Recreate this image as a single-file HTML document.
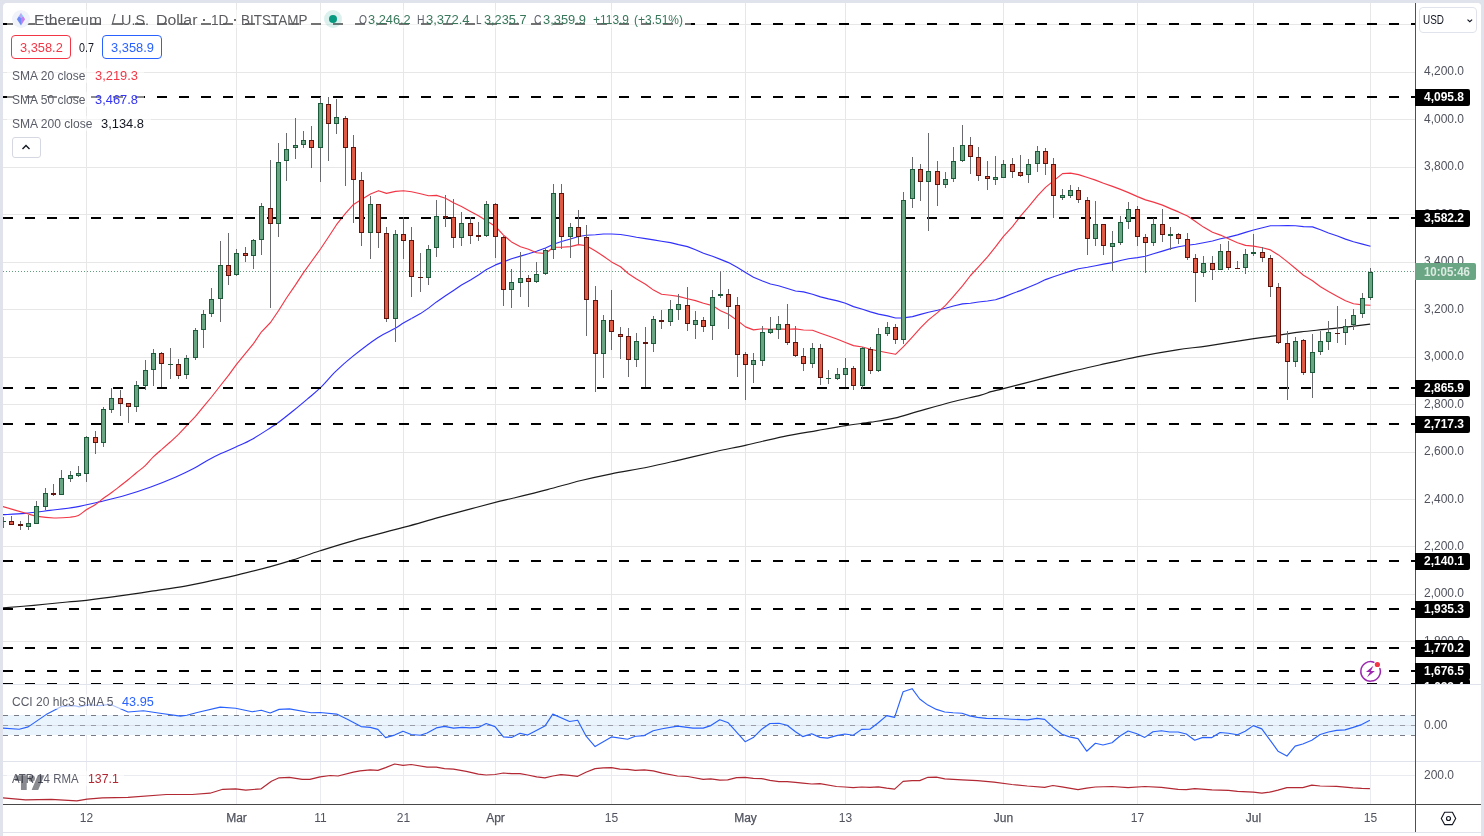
<!DOCTYPE html>
<html><head><meta charset="utf-8"><title>ETHUSD</title>
<style>
html,body{margin:0;padding:0;}
body{width:1484px;height:836px;background:#e0e3eb;overflow:hidden;position:relative;font-family:"Liberation Sans",sans-serif;}
#c{position:absolute;left:3px;top:3px;width:1478px;height:833px;background:#fff;border-radius:4px 4px 0 0;}
#w{position:absolute;left:0;top:0;width:1484px;height:836px;overflow:hidden;will-change:transform;}
svg.m{position:absolute;left:0;top:0;}
.t{position:absolute;white-space:nowrap;line-height:16px;}
.bl{position:absolute;left:1415px;height:17px;line-height:17px;font-size:12px;font-weight:bold;border-radius:0 2px 2px 0;box-sizing:border-box;padding-left:9px;white-space:nowrap;}
.mo{-webkit-text-stroke:0.25px #50535e;}
</style></head><body>
<div id="c"></div>
<div id="w">
<svg class="m" width="1484" height="836" viewBox="0 0 1484 836" shape-rendering="auto">
<defs><clipPath id="cp"><rect x="3" y="3" width="1478" height="841" rx="4"/></clipPath></defs>
<g clip-path="url(#cp)">
<rect x="86" y="3" width="1" height="681" fill="#e7e7e7"/>
<rect x="86" y="685" width="1" height="119" fill="#e9ebf0"/>
<rect x="236" y="3" width="1" height="681" fill="#e7e7e7"/>
<rect x="236" y="685" width="1" height="119" fill="#e9ebf0"/>
<rect x="320" y="3" width="1" height="681" fill="#e7e7e7"/>
<rect x="320" y="685" width="1" height="119" fill="#e9ebf0"/>
<rect x="403" y="3" width="1" height="681" fill="#e7e7e7"/>
<rect x="403" y="685" width="1" height="119" fill="#e9ebf0"/>
<rect x="495" y="3" width="1" height="681" fill="#e7e7e7"/>
<rect x="495" y="685" width="1" height="119" fill="#e9ebf0"/>
<rect x="611" y="3" width="1" height="681" fill="#e7e7e7"/>
<rect x="611" y="685" width="1" height="119" fill="#e9ebf0"/>
<rect x="745" y="3" width="1" height="681" fill="#e7e7e7"/>
<rect x="745" y="685" width="1" height="119" fill="#e9ebf0"/>
<rect x="845" y="3" width="1" height="681" fill="#e7e7e7"/>
<rect x="845" y="685" width="1" height="119" fill="#e9ebf0"/>
<rect x="1003" y="3" width="1" height="681" fill="#e7e7e7"/>
<rect x="1003" y="685" width="1" height="119" fill="#e9ebf0"/>
<rect x="1137" y="3" width="1" height="681" fill="#e7e7e7"/>
<rect x="1137" y="685" width="1" height="119" fill="#e9ebf0"/>
<rect x="1253" y="3" width="1" height="681" fill="#e7e7e7"/>
<rect x="1253" y="685" width="1" height="119" fill="#e9ebf0"/>
<rect x="1370" y="3" width="1" height="681" fill="#e7e7e7"/>
<rect x="1370" y="685" width="1" height="119" fill="#e9ebf0"/>
<rect x="3" y="24" width="1412" height="1" fill="#e7e7e7"/>
<rect x="3" y="72" width="1412" height="1" fill="#e7e7e7"/>
<rect x="3" y="119" width="1412" height="1" fill="#e7e7e7"/>
<rect x="3" y="167" width="1412" height="1" fill="#e7e7e7"/>
<rect x="3" y="214" width="1412" height="1" fill="#e7e7e7"/>
<rect x="3" y="262" width="1412" height="1" fill="#e7e7e7"/>
<rect x="3" y="309" width="1412" height="1" fill="#e7e7e7"/>
<rect x="3" y="357" width="1412" height="1" fill="#e7e7e7"/>
<rect x="3" y="404" width="1412" height="1" fill="#e7e7e7"/>
<rect x="3" y="452" width="1412" height="1" fill="#e7e7e7"/>
<rect x="3" y="499" width="1412" height="1" fill="#e7e7e7"/>
<rect x="3" y="546" width="1412" height="1" fill="#e7e7e7"/>
<rect x="3" y="594" width="1412" height="1" fill="#e7e7e7"/>
<rect x="3" y="641" width="1412" height="1" fill="#e7e7e7"/>
<rect x="3" y="775" width="1412" height="1" fill="#e9ebf0"/>
<rect x="3" y="715" width="1412" height="20" fill="#e9f4fd"/>
<rect x="3" y="725" width="1412" height="1" fill="#dde3ee"/>
<line x1="3" y1="715.5" x2="1415" y2="715.5" stroke="#787b86" stroke-width="1" stroke-dasharray="5 6"/>
<line x1="3" y1="725.5" x2="1415" y2="725.5" stroke="#9a9da7" stroke-width="1" stroke-dasharray="5 6"/>
<line x1="3" y1="735.5" x2="1415" y2="735.5" stroke="#787b86" stroke-width="1" stroke-dasharray="5 6"/>
<line x1="3" y1="271.5" x2="1415" y2="271.5" stroke="#5f9f7d" stroke-width="1" stroke-dasharray="1 2"/>
<path d="M2.70,608.00 C7.87,607.55 22.92,606.30 33.70,605.30 C44.48,604.30 58.63,602.83 67.40,602.00 C76.17,601.17 77.87,601.27 86.30,600.30 C94.73,599.33 107.12,597.72 118.00,596.20 C128.88,594.68 140.38,592.88 151.60,591.20 C162.82,589.52 174.07,588.12 185.30,586.10 C196.53,584.08 210.58,580.90 219.00,579.10 C227.42,577.30 227.38,577.33 235.80,575.30 C244.22,573.27 259.95,569.47 269.50,566.90 C279.05,564.33 284.67,562.58 293.10,559.90 C301.53,557.22 309.98,554.02 320.10,550.80 C330.22,547.58 339.77,544.53 353.80,540.60 C367.83,536.67 390.27,531.02 404.30,527.20 C418.33,523.38 426.77,520.80 438.00,517.70 C449.23,514.60 461.37,511.35 471.70,508.60 C482.03,505.85 493.00,502.97 500.00,501.20 C507.00,499.43 505.80,499.93 513.70,498.00 C521.60,496.07 536.17,492.52 547.40,489.60 C558.63,486.68 570.43,483.13 581.10,480.50 C591.77,477.87 600.17,476.05 611.40,473.80 C622.63,471.55 636.70,469.42 648.50,467.00 C660.30,464.58 670.97,461.88 682.20,459.30 C693.43,456.72 705.23,453.87 715.90,451.50 C726.57,449.13 734.98,447.57 746.20,445.10 C757.42,442.63 771.42,439.12 783.20,436.70 C794.98,434.28 806.50,432.45 816.90,430.60 C827.30,428.75 836.62,427.00 845.60,425.60 C854.58,424.20 862.67,423.43 870.80,422.20 C878.93,420.97 886.53,420.00 894.40,418.20 C902.27,416.40 908.45,414.10 918.00,411.40 C927.55,408.70 941.37,404.68 951.70,402.00 C962.03,399.32 973.45,397.02 980.00,395.30 C986.55,393.58 987.10,392.82 991.00,391.70 C994.90,390.58 995.65,390.57 1003.40,388.60 C1011.15,386.63 1026.65,382.65 1037.50,379.90 C1048.35,377.15 1058.17,374.58 1068.50,372.10 C1078.83,369.62 1087.88,367.58 1099.50,365.00 C1111.12,362.42 1125.28,359.13 1138.20,356.60 C1151.12,354.07 1165.37,351.60 1177.00,349.80 C1188.63,348.00 1195.18,347.65 1208.00,345.80 C1220.82,343.95 1242.17,340.45 1253.90,338.70 C1265.63,336.95 1270.55,336.45 1278.40,335.30 C1286.25,334.15 1292.07,332.90 1301.00,331.80 C1309.93,330.70 1320.48,329.98 1332.00,328.70 C1343.52,327.42 1363.75,324.87 1370.10,324.10" fill="none" stroke="#1c1c1c" stroke-width="1.2" stroke-linejoin="round"/>
<path d="M3.00,514.70 C6.67,514.48 17.17,514.12 25.00,513.40 C32.83,512.68 41.60,511.45 50.00,510.40 C58.40,509.35 66.98,508.57 75.40,507.10 C83.82,505.63 92.13,503.57 100.50,501.60 C108.87,499.63 117.22,497.73 125.60,495.30 C133.98,492.87 142.42,490.05 150.80,487.00 C159.18,483.95 168.77,480.07 175.90,477.00 C183.03,473.93 188.37,471.35 193.60,468.60 C198.83,465.85 202.75,463.00 207.30,460.50 C211.85,458.00 216.05,455.88 220.90,453.60 C225.75,451.32 231.10,449.25 236.40,446.80 C241.70,444.35 246.95,442.12 252.70,438.90 C258.45,435.68 266.73,430.15 270.90,427.50 C275.07,424.85 273.92,425.83 277.70,423.00 C281.48,420.17 288.67,414.48 293.60,410.50 C298.53,406.52 302.82,402.90 307.30,399.10 C311.78,395.30 315.77,392.32 320.50,387.70 C325.23,383.08 330.33,376.62 335.70,371.40 C341.07,366.18 345.70,362.02 352.70,356.40 C359.70,350.78 370.68,342.33 377.70,337.70 C384.72,333.07 390.52,331.05 394.80,328.60 C399.08,326.15 400.62,324.69 403.40,323.00 C406.18,321.31 410.15,319.21 411.50,318.46" fill="none" stroke="#3030ff" stroke-width="1.15"/>
<polyline points="411.5,318.5 420.5,313.6 428.5,308.1 436.5,301.9 445.5,295.8 453.5,290.4 461.5,285.0 470.5,279.9 478.5,275.0 486.5,269.6 495.5,264.9 503.5,261.9 511.5,258.7 520.5,256.1 528.5,253.8 536.5,251.2 545.5,248.0 553.5,244.2 561.5,241.5 570.5,239.0 578.5,236.5 586.5,235.2 595.5,234.8 603.5,234.0 611.5,234.0 620.5,234.5 628.5,235.7 636.5,237.2 645.5,238.6 653.5,239.9 661.5,241.2 670.5,242.6 678.5,244.6 687.5,246.6 695.5,249.7 703.5,253.3 712.5,256.3 720.5,259.4 728.5,262.6 737.5,267.6 745.5,272.4 753.5,277.3 762.5,281.0 770.5,284.0 778.5,285.8 787.5,288.5 795.5,291.0 803.5,291.9 812.5,294.2 820.5,296.9 828.5,298.9 837.5,300.9 845.5,303.2 853.5,306.6 862.5,309.2 870.5,311.9 878.5,314.1 887.5,315.9 895.5,318.0 903.5,317.9 912.5,316.6 920.5,314.4 928.5,312.2 937.5,310.3 945.5,308.3 953.5,306.0 962.5,303.9 970.5,303.2 978.5,302.0 987.5,301.0 995.5,299.8 1003.5,297.1 1012.5,293.5 1020.5,290.6 1028.5,287.2 1037.5,283.5 1045.5,279.6 1053.5,276.7 1062.5,273.7 1070.5,271.1 1078.5,268.7 1087.5,267.3 1095.5,265.7 1103.5,264.1 1112.5,262.6 1120.5,260.5 1128.5,258.7 1137.5,257.6 1145.5,256.3 1153.5,253.7 1162.5,251.1 1170.5,248.6 1178.5,246.7 1187.5,245.3 1195.5,244.3 1203.5,242.7 1212.5,241.0 1220.5,238.7 1228.5,237.1 1237.5,234.9 1245.5,232.4 1253.5,230.0 1262.5,227.8 1270.5,225.8 1278.5,225.7 1287.5,225.6 1295.5,225.7 1303.5,226.6 1312.5,226.9 1320.5,229.7 1328.5,233.0 1337.5,236.0 1345.5,239.1 1353.5,241.7 1362.5,244.1 1370.5,246.3" fill="none" stroke="#3030ff" stroke-width="1.15" stroke-linejoin="round"/>
<path d="M3.00,506.60 C6.67,507.67 19.22,511.37 25.00,513.00 C30.78,514.63 32.87,515.57 37.70,516.40 C42.53,517.23 48.55,517.87 54.00,518.00 C59.45,518.13 66.33,517.63 70.40,517.20 C74.47,516.77 75.68,516.67 78.40,515.40 C81.12,514.13 83.85,511.40 86.70,509.60 C89.55,507.80 92.70,506.48 95.50,504.60 C98.30,502.72 100.87,500.27 103.50,498.30 C106.13,496.33 108.48,494.88 111.30,492.80 C114.12,490.72 117.55,488.02 120.40,485.80 C123.25,483.58 125.73,481.68 128.40,479.50 C131.07,477.32 133.60,475.00 136.40,472.70 C139.20,470.40 142.38,468.33 145.20,465.70 C148.02,463.07 150.58,459.58 153.30,456.90 C156.02,454.22 160.13,450.85 161.50,449.64" fill="none" stroke="#f23645" stroke-width="1.15"/>
<polyline points="161.5,449.6 170.5,441.8 178.5,434.3 186.5,425.9 195.5,416.3 203.5,406.7 211.5,397.0 220.5,385.5 228.5,375.4 236.5,364.3 245.5,353.4 253.5,343.6 261.5,331.8 270.5,322.5 278.5,310.7 286.5,298.0 295.5,284.9 303.5,272.6 311.5,261.5 320.5,249.0 328.5,237.0 336.5,224.7 345.5,213.3 353.5,204.4 361.5,199.5 370.5,194.0 378.5,190.7 386.5,193.4 395.5,191.4 403.5,190.7 411.5,191.8 420.5,193.7 428.5,195.8 436.5,195.4 445.5,198.2 453.5,202.7 461.5,206.6 470.5,211.4 478.5,215.8 486.5,220.8 495.5,226.5 503.5,235.1 511.5,241.9 520.5,246.8 528.5,249.2 536.5,252.7 545.5,253.5 553.5,247.2 561.5,247.3 570.5,246.6 578.5,244.6 586.5,245.8 595.5,251.0 603.5,256.2 611.5,261.9 620.5,266.8 628.5,273.7 636.5,278.9 645.5,284.3 653.5,290.1 661.5,294.3 670.5,295.3 678.5,296.4 687.5,298.7 695.5,300.6 703.5,303.3 712.5,305.6 720.5,310.7 728.5,314.2 737.5,320.6 745.5,326.9 753.5,329.9 762.5,328.8 770.5,329.3 778.5,328.9 787.5,329.2 795.5,328.9 803.5,330.0 812.5,330.3 820.5,333.2 828.5,336.0 837.5,339.3 845.5,342.5 853.5,345.6 862.5,347.0 870.5,349.2 878.5,351.0 887.5,352.7 895.5,354.3 903.5,346.6 912.5,336.8 920.5,327.9 928.5,319.9 937.5,312.6 945.5,305.4 953.5,296.3 962.5,285.8 970.5,275.5 978.5,266.9 987.5,256.9 995.5,246.9 1003.5,236.4 1012.5,226.6 1020.5,216.1 1028.5,206.9 1037.5,195.9 1045.5,187.4 1053.5,180.9 1062.5,173.6 1070.5,173.1 1078.5,174.6 1087.5,177.5 1095.5,180.1 1103.5,183.2 1112.5,186.4 1120.5,189.4 1128.5,192.6 1137.5,196.6 1145.5,199.9 1153.5,202.1 1162.5,205.1 1170.5,208.6 1178.5,211.9 1187.5,216.0 1195.5,221.5 1203.5,227.1 1212.5,232.3 1220.5,235.1 1228.5,238.7 1237.5,242.7 1245.5,245.4 1253.5,246.1 1262.5,247.8 1270.5,249.9 1278.5,254.9 1287.5,261.9 1295.5,268.5 1303.5,275.3 1312.5,280.8 1320.5,286.7 1328.5,291.5 1337.5,296.5 1345.5,300.8 1353.5,303.7 1362.5,304.9 1370.5,305.3" fill="none" stroke="#f23645" stroke-width="1.15" stroke-linejoin="round"/>
<line x1="3" y1="24" x2="1415" y2="24" stroke="#000" stroke-width="2" stroke-dasharray="10 12"/>
<line x1="3" y1="97" x2="1415" y2="97" stroke="#000" stroke-width="2" stroke-dasharray="10 12"/>
<line x1="3" y1="218" x2="1415" y2="218" stroke="#000" stroke-width="2" stroke-dasharray="10 12"/>
<line x1="3" y1="388" x2="1415" y2="388" stroke="#000" stroke-width="2" stroke-dasharray="10 12"/>
<line x1="3" y1="424" x2="1415" y2="424" stroke="#000" stroke-width="2" stroke-dasharray="10 12"/>
<line x1="3" y1="561" x2="1415" y2="561" stroke="#000" stroke-width="2" stroke-dasharray="10 12"/>
<line x1="3" y1="609" x2="1415" y2="609" stroke="#000" stroke-width="2" stroke-dasharray="10 12"/>
<line x1="3" y1="648" x2="1415" y2="648" stroke="#000" stroke-width="2" stroke-dasharray="10 12"/>
<line x1="3" y1="671" x2="1415" y2="671" stroke="#000" stroke-width="2" stroke-dasharray="10 12"/>
<line x1="3" y1="683.5" x2="1415" y2="683.5" stroke="#000" stroke-width="1.2" stroke-dasharray="10 12"/>
<rect x="3" y="517" width="1" height="11" fill="#686a6e"/>
<rect x="1" y="521" width="5" height="1" fill="#1d5a3a"/>
<rect x="11" y="516" width="1" height="9" fill="#686a6e"/>
<rect x="9" y="521" width="5" height="4" fill="#5e130c"/>
<rect x="10" y="522" width="3" height="2" fill="#de5a45"/>
<rect x="20" y="521" width="1" height="9" fill="#686a6e"/>
<rect x="18" y="524" width="5" height="2" fill="#5e130c"/>
<rect x="28" y="515" width="1" height="15" fill="#686a6e"/>
<rect x="26" y="523" width="5" height="4" fill="#1d5a3a"/>
<rect x="27" y="524" width="3" height="2" fill="#6aa583"/>
<rect x="36" y="501" width="1" height="23" fill="#686a6e"/>
<rect x="34" y="506" width="5" height="18" fill="#1d5a3a"/>
<rect x="35" y="507" width="3" height="16" fill="#6aa583"/>
<rect x="45" y="488" width="1" height="22" fill="#686a6e"/>
<rect x="43" y="493" width="5" height="14" fill="#1d5a3a"/>
<rect x="44" y="494" width="3" height="12" fill="#6aa583"/>
<rect x="53" y="484" width="1" height="12" fill="#686a6e"/>
<rect x="51" y="493" width="5" height="2" fill="#5e130c"/>
<rect x="61" y="470" width="1" height="25" fill="#686a6e"/>
<rect x="59" y="478" width="5" height="17" fill="#1d5a3a"/>
<rect x="60" y="479" width="3" height="15" fill="#6aa583"/>
<rect x="70" y="471" width="1" height="11" fill="#686a6e"/>
<rect x="68" y="475" width="5" height="4" fill="#1d5a3a"/>
<rect x="69" y="476" width="3" height="2" fill="#6aa583"/>
<rect x="78" y="466" width="1" height="11" fill="#686a6e"/>
<rect x="76" y="473" width="5" height="3" fill="#1d5a3a"/>
<rect x="77" y="474" width="3" height="1" fill="#6aa583"/>
<rect x="86" y="436" width="1" height="46" fill="#686a6e"/>
<rect x="84" y="437" width="5" height="37" fill="#1d5a3a"/>
<rect x="85" y="438" width="3" height="35" fill="#6aa583"/>
<rect x="95" y="431" width="1" height="23" fill="#686a6e"/>
<rect x="93" y="437" width="5" height="6" fill="#5e130c"/>
<rect x="94" y="438" width="3" height="4" fill="#de5a45"/>
<rect x="103" y="407" width="1" height="40" fill="#686a6e"/>
<rect x="101" y="409" width="5" height="34" fill="#1d5a3a"/>
<rect x="102" y="410" width="3" height="32" fill="#6aa583"/>
<rect x="111" y="388" width="1" height="25" fill="#686a6e"/>
<rect x="109" y="398" width="5" height="12" fill="#1d5a3a"/>
<rect x="110" y="399" width="3" height="10" fill="#6aa583"/>
<rect x="120" y="390" width="1" height="26" fill="#686a6e"/>
<rect x="118" y="398" width="5" height="6" fill="#5e130c"/>
<rect x="119" y="399" width="3" height="4" fill="#de5a45"/>
<rect x="128" y="403" width="1" height="20" fill="#686a6e"/>
<rect x="126" y="403" width="5" height="4" fill="#5e130c"/>
<rect x="127" y="404" width="3" height="2" fill="#de5a45"/>
<rect x="136" y="381" width="1" height="31" fill="#686a6e"/>
<rect x="134" y="385" width="5" height="22" fill="#1d5a3a"/>
<rect x="135" y="386" width="3" height="20" fill="#6aa583"/>
<rect x="145" y="360" width="1" height="30" fill="#686a6e"/>
<rect x="143" y="370" width="5" height="16" fill="#1d5a3a"/>
<rect x="144" y="371" width="3" height="14" fill="#6aa583"/>
<rect x="153" y="349" width="1" height="37" fill="#686a6e"/>
<rect x="151" y="353" width="5" height="17" fill="#1d5a3a"/>
<rect x="152" y="354" width="3" height="15" fill="#6aa583"/>
<rect x="161" y="352" width="1" height="35" fill="#686a6e"/>
<rect x="159" y="353" width="5" height="11" fill="#5e130c"/>
<rect x="160" y="354" width="3" height="9" fill="#de5a45"/>
<rect x="170" y="348" width="1" height="31" fill="#686a6e"/>
<rect x="168" y="364" width="5" height="1" fill="#1d5a3a"/>
<rect x="178" y="359" width="1" height="20" fill="#686a6e"/>
<rect x="176" y="364" width="5" height="12" fill="#5e130c"/>
<rect x="177" y="365" width="3" height="10" fill="#de5a45"/>
<rect x="186" y="355" width="1" height="24" fill="#686a6e"/>
<rect x="184" y="358" width="5" height="17" fill="#1d5a3a"/>
<rect x="185" y="359" width="3" height="15" fill="#6aa583"/>
<rect x="195" y="328" width="1" height="32" fill="#686a6e"/>
<rect x="193" y="330" width="5" height="28" fill="#1d5a3a"/>
<rect x="194" y="331" width="3" height="26" fill="#6aa583"/>
<rect x="203" y="310" width="1" height="38" fill="#686a6e"/>
<rect x="201" y="314" width="5" height="16" fill="#1d5a3a"/>
<rect x="202" y="315" width="3" height="14" fill="#6aa583"/>
<rect x="211" y="288" width="1" height="29" fill="#686a6e"/>
<rect x="209" y="299" width="5" height="15" fill="#1d5a3a"/>
<rect x="210" y="300" width="3" height="13" fill="#6aa583"/>
<rect x="220" y="241" width="1" height="81" fill="#686a6e"/>
<rect x="218" y="265" width="5" height="34" fill="#1d5a3a"/>
<rect x="219" y="266" width="3" height="32" fill="#6aa583"/>
<rect x="228" y="233" width="1" height="52" fill="#686a6e"/>
<rect x="226" y="265" width="5" height="11" fill="#5e130c"/>
<rect x="227" y="266" width="3" height="9" fill="#de5a45"/>
<rect x="236" y="249" width="1" height="27" fill="#686a6e"/>
<rect x="234" y="253" width="5" height="22" fill="#1d5a3a"/>
<rect x="235" y="254" width="3" height="20" fill="#6aa583"/>
<rect x="245" y="247" width="1" height="15" fill="#686a6e"/>
<rect x="243" y="253" width="5" height="3" fill="#5e130c"/>
<rect x="244" y="254" width="3" height="1" fill="#de5a45"/>
<rect x="253" y="239" width="1" height="30" fill="#686a6e"/>
<rect x="251" y="240" width="5" height="16" fill="#1d5a3a"/>
<rect x="252" y="241" width="3" height="14" fill="#6aa583"/>
<rect x="261" y="203" width="1" height="52" fill="#686a6e"/>
<rect x="259" y="206" width="5" height="34" fill="#1d5a3a"/>
<rect x="260" y="207" width="3" height="32" fill="#6aa583"/>
<rect x="270" y="160" width="1" height="148" fill="#686a6e"/>
<rect x="268" y="208" width="5" height="16" fill="#5e130c"/>
<rect x="269" y="209" width="3" height="14" fill="#de5a45"/>
<rect x="278" y="143" width="1" height="94" fill="#686a6e"/>
<rect x="276" y="162" width="5" height="62" fill="#1d5a3a"/>
<rect x="277" y="163" width="3" height="60" fill="#6aa583"/>
<rect x="286" y="133" width="1" height="48" fill="#686a6e"/>
<rect x="284" y="149" width="5" height="12" fill="#1d5a3a"/>
<rect x="285" y="150" width="3" height="10" fill="#6aa583"/>
<rect x="295" y="118" width="1" height="41" fill="#686a6e"/>
<rect x="293" y="145" width="5" height="3" fill="#1d5a3a"/>
<rect x="294" y="146" width="3" height="1" fill="#6aa583"/>
<rect x="303" y="131" width="1" height="17" fill="#686a6e"/>
<rect x="301" y="140" width="5" height="5" fill="#1d5a3a"/>
<rect x="302" y="141" width="3" height="3" fill="#6aa583"/>
<rect x="311" y="126" width="1" height="42" fill="#686a6e"/>
<rect x="309" y="140" width="5" height="8" fill="#5e130c"/>
<rect x="310" y="141" width="3" height="6" fill="#de5a45"/>
<rect x="320" y="97" width="1" height="85" fill="#686a6e"/>
<rect x="318" y="103" width="5" height="45" fill="#1d5a3a"/>
<rect x="319" y="104" width="3" height="43" fill="#6aa583"/>
<rect x="328" y="97" width="1" height="64" fill="#686a6e"/>
<rect x="326" y="104" width="5" height="20" fill="#5e130c"/>
<rect x="327" y="105" width="3" height="18" fill="#de5a45"/>
<rect x="336" y="99" width="1" height="35" fill="#686a6e"/>
<rect x="334" y="117" width="5" height="7" fill="#1d5a3a"/>
<rect x="335" y="118" width="3" height="5" fill="#6aa583"/>
<rect x="345" y="116" width="1" height="70" fill="#686a6e"/>
<rect x="343" y="118" width="5" height="30" fill="#5e130c"/>
<rect x="344" y="119" width="3" height="28" fill="#de5a45"/>
<rect x="353" y="135" width="1" height="88" fill="#686a6e"/>
<rect x="351" y="147" width="5" height="33" fill="#5e130c"/>
<rect x="352" y="148" width="3" height="31" fill="#de5a45"/>
<rect x="361" y="172" width="1" height="74" fill="#686a6e"/>
<rect x="359" y="180" width="5" height="53" fill="#5e130c"/>
<rect x="360" y="181" width="3" height="51" fill="#de5a45"/>
<rect x="370" y="196" width="1" height="63" fill="#686a6e"/>
<rect x="368" y="204" width="5" height="29" fill="#1d5a3a"/>
<rect x="369" y="205" width="3" height="27" fill="#6aa583"/>
<rect x="378" y="204" width="1" height="44" fill="#686a6e"/>
<rect x="376" y="204" width="5" height="29" fill="#5e130c"/>
<rect x="377" y="205" width="3" height="27" fill="#de5a45"/>
<rect x="386" y="227" width="1" height="95" fill="#686a6e"/>
<rect x="384" y="233" width="5" height="86" fill="#5e130c"/>
<rect x="385" y="234" width="3" height="84" fill="#de5a45"/>
<rect x="395" y="230" width="1" height="112" fill="#686a6e"/>
<rect x="393" y="234" width="5" height="85" fill="#1d5a3a"/>
<rect x="394" y="235" width="3" height="83" fill="#6aa583"/>
<rect x="403" y="217" width="1" height="42" fill="#686a6e"/>
<rect x="401" y="234" width="5" height="7" fill="#5e130c"/>
<rect x="402" y="235" width="3" height="5" fill="#de5a45"/>
<rect x="411" y="227" width="1" height="70" fill="#686a6e"/>
<rect x="409" y="240" width="5" height="37" fill="#5e130c"/>
<rect x="410" y="241" width="3" height="35" fill="#de5a45"/>
<rect x="420" y="253" width="1" height="39" fill="#686a6e"/>
<rect x="418" y="277" width="5" height="1" fill="#5e130c"/>
<rect x="428" y="245" width="1" height="40" fill="#686a6e"/>
<rect x="426" y="249" width="5" height="29" fill="#1d5a3a"/>
<rect x="427" y="250" width="3" height="27" fill="#6aa583"/>
<rect x="436" y="200" width="1" height="57" fill="#686a6e"/>
<rect x="434" y="216" width="5" height="32" fill="#1d5a3a"/>
<rect x="435" y="217" width="3" height="30" fill="#6aa583"/>
<rect x="445" y="195" width="1" height="32" fill="#686a6e"/>
<rect x="443" y="216" width="5" height="2" fill="#5e130c"/>
<rect x="453" y="199" width="1" height="49" fill="#686a6e"/>
<rect x="451" y="217" width="5" height="21" fill="#5e130c"/>
<rect x="452" y="218" width="3" height="19" fill="#de5a45"/>
<rect x="461" y="212" width="1" height="34" fill="#686a6e"/>
<rect x="459" y="223" width="5" height="15" fill="#1d5a3a"/>
<rect x="460" y="224" width="3" height="13" fill="#6aa583"/>
<rect x="470" y="217" width="1" height="27" fill="#686a6e"/>
<rect x="468" y="223" width="5" height="13" fill="#5e130c"/>
<rect x="469" y="224" width="3" height="11" fill="#de5a45"/>
<rect x="478" y="222" width="1" height="19" fill="#686a6e"/>
<rect x="476" y="235" width="5" height="2" fill="#5e130c"/>
<rect x="486" y="201" width="1" height="36" fill="#686a6e"/>
<rect x="484" y="204" width="5" height="32" fill="#1d5a3a"/>
<rect x="485" y="205" width="3" height="30" fill="#6aa583"/>
<rect x="495" y="203" width="1" height="55" fill="#686a6e"/>
<rect x="493" y="204" width="5" height="33" fill="#5e130c"/>
<rect x="494" y="205" width="3" height="31" fill="#de5a45"/>
<rect x="503" y="236" width="1" height="70" fill="#686a6e"/>
<rect x="501" y="237" width="5" height="53" fill="#5e130c"/>
<rect x="502" y="238" width="3" height="51" fill="#de5a45"/>
<rect x="511" y="269" width="1" height="39" fill="#686a6e"/>
<rect x="509" y="282" width="5" height="8" fill="#1d5a3a"/>
<rect x="510" y="283" width="3" height="6" fill="#6aa583"/>
<rect x="520" y="252" width="1" height="45" fill="#686a6e"/>
<rect x="518" y="278" width="5" height="5" fill="#1d5a3a"/>
<rect x="519" y="279" width="3" height="3" fill="#6aa583"/>
<rect x="528" y="275" width="1" height="32" fill="#686a6e"/>
<rect x="526" y="278" width="5" height="4" fill="#5e130c"/>
<rect x="527" y="279" width="3" height="2" fill="#de5a45"/>
<rect x="536" y="262" width="1" height="21" fill="#686a6e"/>
<rect x="534" y="274" width="5" height="8" fill="#1d5a3a"/>
<rect x="535" y="275" width="3" height="6" fill="#6aa583"/>
<rect x="545" y="248" width="1" height="27" fill="#686a6e"/>
<rect x="543" y="250" width="5" height="24" fill="#1d5a3a"/>
<rect x="544" y="251" width="3" height="22" fill="#6aa583"/>
<rect x="553" y="184" width="1" height="75" fill="#686a6e"/>
<rect x="551" y="193" width="5" height="57" fill="#1d5a3a"/>
<rect x="552" y="194" width="3" height="55" fill="#6aa583"/>
<rect x="561" y="184" width="1" height="65" fill="#686a6e"/>
<rect x="559" y="193" width="5" height="44" fill="#5e130c"/>
<rect x="560" y="194" width="3" height="42" fill="#de5a45"/>
<rect x="570" y="223" width="1" height="35" fill="#686a6e"/>
<rect x="568" y="227" width="5" height="10" fill="#1d5a3a"/>
<rect x="569" y="228" width="3" height="8" fill="#6aa583"/>
<rect x="578" y="210" width="1" height="34" fill="#686a6e"/>
<rect x="576" y="227" width="5" height="10" fill="#5e130c"/>
<rect x="577" y="228" width="3" height="8" fill="#de5a45"/>
<rect x="586" y="225" width="1" height="111" fill="#686a6e"/>
<rect x="584" y="237" width="5" height="63" fill="#5e130c"/>
<rect x="585" y="238" width="3" height="61" fill="#de5a45"/>
<rect x="595" y="286" width="1" height="106" fill="#686a6e"/>
<rect x="593" y="300" width="5" height="54" fill="#5e130c"/>
<rect x="594" y="301" width="3" height="52" fill="#de5a45"/>
<rect x="603" y="315" width="1" height="63" fill="#686a6e"/>
<rect x="601" y="320" width="5" height="34" fill="#1d5a3a"/>
<rect x="602" y="321" width="3" height="32" fill="#6aa583"/>
<rect x="611" y="290" width="1" height="60" fill="#686a6e"/>
<rect x="609" y="320" width="5" height="12" fill="#5e130c"/>
<rect x="610" y="321" width="3" height="10" fill="#de5a45"/>
<rect x="620" y="327" width="1" height="32" fill="#686a6e"/>
<rect x="618" y="334" width="5" height="3" fill="#5e130c"/>
<rect x="619" y="335" width="3" height="1" fill="#de5a45"/>
<rect x="628" y="328" width="1" height="49" fill="#686a6e"/>
<rect x="626" y="336" width="5" height="24" fill="#5e130c"/>
<rect x="627" y="337" width="3" height="22" fill="#de5a45"/>
<rect x="636" y="333" width="1" height="34" fill="#686a6e"/>
<rect x="634" y="341" width="5" height="19" fill="#1d5a3a"/>
<rect x="635" y="342" width="3" height="17" fill="#6aa583"/>
<rect x="645" y="327" width="1" height="60" fill="#686a6e"/>
<rect x="643" y="342" width="5" height="2" fill="#5e130c"/>
<rect x="653" y="316" width="1" height="36" fill="#686a6e"/>
<rect x="651" y="319" width="5" height="25" fill="#1d5a3a"/>
<rect x="652" y="320" width="3" height="23" fill="#6aa583"/>
<rect x="661" y="310" width="1" height="19" fill="#686a6e"/>
<rect x="659" y="320" width="5" height="2" fill="#5e130c"/>
<rect x="670" y="300" width="1" height="26" fill="#686a6e"/>
<rect x="668" y="309" width="5" height="13" fill="#1d5a3a"/>
<rect x="669" y="310" width="3" height="11" fill="#6aa583"/>
<rect x="678" y="294" width="1" height="26" fill="#686a6e"/>
<rect x="676" y="304" width="5" height="6" fill="#1d5a3a"/>
<rect x="677" y="305" width="3" height="4" fill="#6aa583"/>
<rect x="687" y="287" width="1" height="44" fill="#686a6e"/>
<rect x="685" y="305" width="5" height="19" fill="#5e130c"/>
<rect x="686" y="306" width="3" height="17" fill="#de5a45"/>
<rect x="695" y="311" width="1" height="28" fill="#686a6e"/>
<rect x="693" y="320" width="5" height="5" fill="#1d5a3a"/>
<rect x="694" y="321" width="3" height="3" fill="#6aa583"/>
<rect x="703" y="317" width="1" height="15" fill="#686a6e"/>
<rect x="701" y="320" width="5" height="7" fill="#5e130c"/>
<rect x="702" y="321" width="3" height="5" fill="#de5a45"/>
<rect x="712" y="290" width="1" height="50" fill="#686a6e"/>
<rect x="710" y="297" width="5" height="29" fill="#1d5a3a"/>
<rect x="711" y="298" width="3" height="27" fill="#6aa583"/>
<rect x="720" y="271" width="1" height="27" fill="#686a6e"/>
<rect x="718" y="294" width="5" height="2" fill="#1d5a3a"/>
<rect x="728" y="289" width="1" height="40" fill="#686a6e"/>
<rect x="726" y="294" width="5" height="13" fill="#5e130c"/>
<rect x="727" y="295" width="3" height="11" fill="#de5a45"/>
<rect x="737" y="297" width="1" height="80" fill="#686a6e"/>
<rect x="735" y="305" width="5" height="50" fill="#5e130c"/>
<rect x="736" y="306" width="3" height="48" fill="#de5a45"/>
<rect x="745" y="352" width="1" height="48" fill="#686a6e"/>
<rect x="743" y="354" width="5" height="11" fill="#5e130c"/>
<rect x="744" y="355" width="3" height="9" fill="#de5a45"/>
<rect x="753" y="353" width="1" height="30" fill="#686a6e"/>
<rect x="751" y="360" width="5" height="5" fill="#1d5a3a"/>
<rect x="752" y="361" width="3" height="3" fill="#6aa583"/>
<rect x="762" y="326" width="1" height="40" fill="#686a6e"/>
<rect x="760" y="332" width="5" height="29" fill="#1d5a3a"/>
<rect x="761" y="333" width="3" height="27" fill="#6aa583"/>
<rect x="770" y="317" width="1" height="17" fill="#686a6e"/>
<rect x="768" y="329" width="5" height="4" fill="#1d5a3a"/>
<rect x="769" y="330" width="3" height="2" fill="#6aa583"/>
<rect x="778" y="316" width="1" height="23" fill="#686a6e"/>
<rect x="776" y="324" width="5" height="6" fill="#1d5a3a"/>
<rect x="777" y="325" width="3" height="4" fill="#6aa583"/>
<rect x="787" y="304" width="1" height="41" fill="#686a6e"/>
<rect x="785" y="324" width="5" height="19" fill="#5e130c"/>
<rect x="786" y="325" width="3" height="17" fill="#de5a45"/>
<rect x="795" y="326" width="1" height="31" fill="#686a6e"/>
<rect x="793" y="342" width="5" height="14" fill="#5e130c"/>
<rect x="794" y="343" width="3" height="12" fill="#de5a45"/>
<rect x="803" y="348" width="1" height="23" fill="#686a6e"/>
<rect x="801" y="356" width="5" height="8" fill="#5e130c"/>
<rect x="802" y="357" width="3" height="6" fill="#de5a45"/>
<rect x="812" y="343" width="1" height="25" fill="#686a6e"/>
<rect x="810" y="348" width="5" height="16" fill="#1d5a3a"/>
<rect x="811" y="349" width="3" height="14" fill="#6aa583"/>
<rect x="820" y="344" width="1" height="41" fill="#686a6e"/>
<rect x="818" y="348" width="5" height="30" fill="#5e130c"/>
<rect x="819" y="349" width="3" height="28" fill="#de5a45"/>
<rect x="828" y="370" width="1" height="14" fill="#686a6e"/>
<rect x="826" y="378" width="5" height="1" fill="#1d5a3a"/>
<rect x="837" y="368" width="1" height="12" fill="#686a6e"/>
<rect x="835" y="374" width="5" height="5" fill="#1d5a3a"/>
<rect x="836" y="375" width="3" height="3" fill="#6aa583"/>
<rect x="845" y="358" width="1" height="29" fill="#686a6e"/>
<rect x="843" y="368" width="5" height="7" fill="#1d5a3a"/>
<rect x="844" y="369" width="3" height="5" fill="#6aa583"/>
<rect x="853" y="366" width="1" height="24" fill="#686a6e"/>
<rect x="851" y="368" width="5" height="18" fill="#5e130c"/>
<rect x="852" y="369" width="3" height="16" fill="#de5a45"/>
<rect x="862" y="347" width="1" height="42" fill="#686a6e"/>
<rect x="860" y="348" width="5" height="38" fill="#1d5a3a"/>
<rect x="861" y="349" width="3" height="36" fill="#6aa583"/>
<rect x="870" y="347" width="1" height="27" fill="#686a6e"/>
<rect x="868" y="349" width="5" height="22" fill="#5e130c"/>
<rect x="869" y="350" width="3" height="20" fill="#de5a45"/>
<rect x="878" y="328" width="1" height="44" fill="#686a6e"/>
<rect x="876" y="334" width="5" height="37" fill="#1d5a3a"/>
<rect x="877" y="335" width="3" height="35" fill="#6aa583"/>
<rect x="887" y="322" width="1" height="14" fill="#686a6e"/>
<rect x="885" y="327" width="5" height="7" fill="#1d5a3a"/>
<rect x="886" y="328" width="3" height="5" fill="#6aa583"/>
<rect x="895" y="324" width="1" height="20" fill="#686a6e"/>
<rect x="893" y="327" width="5" height="13" fill="#5e130c"/>
<rect x="894" y="328" width="3" height="11" fill="#de5a45"/>
<rect x="903" y="192" width="1" height="152" fill="#686a6e"/>
<rect x="901" y="200" width="5" height="140" fill="#1d5a3a"/>
<rect x="902" y="201" width="3" height="138" fill="#6aa583"/>
<rect x="912" y="157" width="1" height="51" fill="#686a6e"/>
<rect x="910" y="169" width="5" height="30" fill="#1d5a3a"/>
<rect x="911" y="170" width="3" height="28" fill="#6aa583"/>
<rect x="920" y="164" width="1" height="37" fill="#686a6e"/>
<rect x="918" y="169" width="5" height="13" fill="#5e130c"/>
<rect x="919" y="170" width="3" height="11" fill="#de5a45"/>
<rect x="928" y="133" width="1" height="98" fill="#686a6e"/>
<rect x="926" y="171" width="5" height="11" fill="#1d5a3a"/>
<rect x="927" y="172" width="3" height="9" fill="#6aa583"/>
<rect x="937" y="161" width="1" height="45" fill="#686a6e"/>
<rect x="935" y="171" width="5" height="14" fill="#5e130c"/>
<rect x="936" y="172" width="3" height="12" fill="#de5a45"/>
<rect x="945" y="172" width="1" height="16" fill="#686a6e"/>
<rect x="943" y="179" width="5" height="6" fill="#1d5a3a"/>
<rect x="944" y="180" width="3" height="4" fill="#6aa583"/>
<rect x="953" y="147" width="1" height="35" fill="#686a6e"/>
<rect x="951" y="161" width="5" height="18" fill="#1d5a3a"/>
<rect x="952" y="162" width="3" height="16" fill="#6aa583"/>
<rect x="962" y="125" width="1" height="37" fill="#686a6e"/>
<rect x="960" y="145" width="5" height="16" fill="#1d5a3a"/>
<rect x="961" y="146" width="3" height="14" fill="#6aa583"/>
<rect x="970" y="137" width="1" height="37" fill="#686a6e"/>
<rect x="968" y="145" width="5" height="12" fill="#5e130c"/>
<rect x="969" y="146" width="3" height="10" fill="#de5a45"/>
<rect x="978" y="147" width="1" height="34" fill="#686a6e"/>
<rect x="976" y="157" width="5" height="19" fill="#5e130c"/>
<rect x="977" y="158" width="3" height="17" fill="#de5a45"/>
<rect x="987" y="161" width="1" height="29" fill="#686a6e"/>
<rect x="985" y="176" width="5" height="3" fill="#5e130c"/>
<rect x="986" y="177" width="3" height="1" fill="#de5a45"/>
<rect x="995" y="156" width="1" height="29" fill="#686a6e"/>
<rect x="993" y="177" width="5" height="3" fill="#1d5a3a"/>
<rect x="994" y="178" width="3" height="1" fill="#6aa583"/>
<rect x="1003" y="160" width="1" height="18" fill="#686a6e"/>
<rect x="1001" y="164" width="5" height="14" fill="#1d5a3a"/>
<rect x="1002" y="165" width="3" height="12" fill="#6aa583"/>
<rect x="1012" y="158" width="1" height="20" fill="#686a6e"/>
<rect x="1010" y="164" width="5" height="8" fill="#5e130c"/>
<rect x="1011" y="165" width="3" height="6" fill="#de5a45"/>
<rect x="1020" y="155" width="1" height="22" fill="#686a6e"/>
<rect x="1018" y="172" width="5" height="4" fill="#5e130c"/>
<rect x="1019" y="173" width="3" height="2" fill="#de5a45"/>
<rect x="1028" y="159" width="1" height="24" fill="#686a6e"/>
<rect x="1026" y="164" width="5" height="11" fill="#1d5a3a"/>
<rect x="1027" y="165" width="3" height="9" fill="#6aa583"/>
<rect x="1037" y="146" width="1" height="26" fill="#686a6e"/>
<rect x="1035" y="151" width="5" height="13" fill="#1d5a3a"/>
<rect x="1036" y="152" width="3" height="11" fill="#6aa583"/>
<rect x="1045" y="148" width="1" height="27" fill="#686a6e"/>
<rect x="1043" y="151" width="5" height="13" fill="#5e130c"/>
<rect x="1044" y="152" width="3" height="11" fill="#de5a45"/>
<rect x="1053" y="158" width="1" height="60" fill="#686a6e"/>
<rect x="1051" y="164" width="5" height="32" fill="#5e130c"/>
<rect x="1052" y="165" width="3" height="30" fill="#de5a45"/>
<rect x="1062" y="189" width="1" height="11" fill="#686a6e"/>
<rect x="1060" y="195" width="5" height="3" fill="#1d5a3a"/>
<rect x="1061" y="196" width="3" height="1" fill="#6aa583"/>
<rect x="1070" y="185" width="1" height="13" fill="#686a6e"/>
<rect x="1068" y="190" width="5" height="6" fill="#1d5a3a"/>
<rect x="1069" y="191" width="3" height="4" fill="#6aa583"/>
<rect x="1078" y="187" width="1" height="16" fill="#686a6e"/>
<rect x="1076" y="190" width="5" height="10" fill="#5e130c"/>
<rect x="1077" y="191" width="3" height="8" fill="#de5a45"/>
<rect x="1087" y="197" width="1" height="58" fill="#686a6e"/>
<rect x="1085" y="200" width="5" height="39" fill="#5e130c"/>
<rect x="1086" y="201" width="3" height="37" fill="#de5a45"/>
<rect x="1095" y="201" width="1" height="45" fill="#686a6e"/>
<rect x="1093" y="224" width="5" height="15" fill="#1d5a3a"/>
<rect x="1094" y="225" width="3" height="13" fill="#6aa583"/>
<rect x="1103" y="224" width="1" height="31" fill="#686a6e"/>
<rect x="1101" y="224" width="5" height="22" fill="#5e130c"/>
<rect x="1102" y="225" width="3" height="20" fill="#de5a45"/>
<rect x="1112" y="231" width="1" height="40" fill="#686a6e"/>
<rect x="1110" y="243" width="5" height="4" fill="#1d5a3a"/>
<rect x="1111" y="244" width="3" height="2" fill="#6aa583"/>
<rect x="1120" y="216" width="1" height="29" fill="#686a6e"/>
<rect x="1118" y="222" width="5" height="21" fill="#1d5a3a"/>
<rect x="1119" y="223" width="3" height="19" fill="#6aa583"/>
<rect x="1128" y="202" width="1" height="27" fill="#686a6e"/>
<rect x="1126" y="209" width="5" height="13" fill="#1d5a3a"/>
<rect x="1127" y="210" width="3" height="11" fill="#6aa583"/>
<rect x="1137" y="206" width="1" height="40" fill="#686a6e"/>
<rect x="1135" y="209" width="5" height="28" fill="#5e130c"/>
<rect x="1136" y="210" width="3" height="26" fill="#de5a45"/>
<rect x="1145" y="234" width="1" height="39" fill="#686a6e"/>
<rect x="1143" y="237" width="5" height="6" fill="#5e130c"/>
<rect x="1144" y="238" width="3" height="4" fill="#de5a45"/>
<rect x="1153" y="218" width="1" height="28" fill="#686a6e"/>
<rect x="1151" y="224" width="5" height="19" fill="#1d5a3a"/>
<rect x="1152" y="225" width="3" height="17" fill="#6aa583"/>
<rect x="1162" y="209" width="1" height="33" fill="#686a6e"/>
<rect x="1160" y="224" width="5" height="11" fill="#5e130c"/>
<rect x="1161" y="225" width="3" height="9" fill="#de5a45"/>
<rect x="1170" y="227" width="1" height="23" fill="#686a6e"/>
<rect x="1168" y="234" width="5" height="2" fill="#1d5a3a"/>
<rect x="1178" y="233" width="1" height="11" fill="#686a6e"/>
<rect x="1176" y="234" width="5" height="5" fill="#5e130c"/>
<rect x="1177" y="235" width="3" height="3" fill="#de5a45"/>
<rect x="1187" y="233" width="1" height="27" fill="#686a6e"/>
<rect x="1185" y="239" width="5" height="19" fill="#5e130c"/>
<rect x="1186" y="240" width="3" height="17" fill="#de5a45"/>
<rect x="1195" y="254" width="1" height="48" fill="#686a6e"/>
<rect x="1193" y="258" width="5" height="15" fill="#5e130c"/>
<rect x="1194" y="259" width="3" height="13" fill="#de5a45"/>
<rect x="1203" y="256" width="1" height="21" fill="#686a6e"/>
<rect x="1201" y="263" width="5" height="10" fill="#1d5a3a"/>
<rect x="1202" y="264" width="3" height="8" fill="#6aa583"/>
<rect x="1212" y="256" width="1" height="24" fill="#686a6e"/>
<rect x="1210" y="263" width="5" height="7" fill="#5e130c"/>
<rect x="1211" y="264" width="3" height="5" fill="#de5a45"/>
<rect x="1220" y="244" width="1" height="26" fill="#686a6e"/>
<rect x="1218" y="251" width="5" height="19" fill="#1d5a3a"/>
<rect x="1219" y="252" width="3" height="17" fill="#6aa583"/>
<rect x="1228" y="241" width="1" height="29" fill="#686a6e"/>
<rect x="1226" y="251" width="5" height="17" fill="#5e130c"/>
<rect x="1227" y="252" width="3" height="15" fill="#de5a45"/>
<rect x="1237" y="261" width="1" height="8" fill="#686a6e"/>
<rect x="1235" y="268" width="5" height="1" fill="#5e130c"/>
<rect x="1245" y="249" width="1" height="25" fill="#686a6e"/>
<rect x="1243" y="254" width="5" height="14" fill="#1d5a3a"/>
<rect x="1244" y="255" width="3" height="12" fill="#6aa583"/>
<rect x="1253" y="234" width="1" height="22" fill="#686a6e"/>
<rect x="1251" y="252" width="5" height="2" fill="#1d5a3a"/>
<rect x="1262" y="247" width="1" height="15" fill="#686a6e"/>
<rect x="1260" y="252" width="5" height="6" fill="#5e130c"/>
<rect x="1261" y="253" width="3" height="4" fill="#de5a45"/>
<rect x="1270" y="255" width="1" height="42" fill="#686a6e"/>
<rect x="1268" y="258" width="5" height="29" fill="#5e130c"/>
<rect x="1269" y="259" width="3" height="27" fill="#de5a45"/>
<rect x="1278" y="283" width="1" height="61" fill="#686a6e"/>
<rect x="1276" y="287" width="5" height="56" fill="#5e130c"/>
<rect x="1277" y="288" width="3" height="54" fill="#de5a45"/>
<rect x="1287" y="331" width="1" height="69" fill="#686a6e"/>
<rect x="1285" y="343" width="5" height="19" fill="#5e130c"/>
<rect x="1286" y="344" width="3" height="17" fill="#de5a45"/>
<rect x="1295" y="337" width="1" height="30" fill="#686a6e"/>
<rect x="1293" y="341" width="5" height="21" fill="#1d5a3a"/>
<rect x="1294" y="342" width="3" height="19" fill="#6aa583"/>
<rect x="1303" y="339" width="1" height="36" fill="#686a6e"/>
<rect x="1301" y="340" width="5" height="33" fill="#5e130c"/>
<rect x="1302" y="341" width="3" height="31" fill="#de5a45"/>
<rect x="1312" y="334" width="1" height="64" fill="#686a6e"/>
<rect x="1310" y="352" width="5" height="21" fill="#1d5a3a"/>
<rect x="1311" y="353" width="3" height="19" fill="#6aa583"/>
<rect x="1320" y="331" width="1" height="24" fill="#686a6e"/>
<rect x="1318" y="341" width="5" height="11" fill="#1d5a3a"/>
<rect x="1319" y="342" width="3" height="9" fill="#6aa583"/>
<rect x="1328" y="321" width="1" height="29" fill="#686a6e"/>
<rect x="1326" y="332" width="5" height="10" fill="#1d5a3a"/>
<rect x="1327" y="333" width="3" height="8" fill="#6aa583"/>
<rect x="1337" y="306" width="1" height="37" fill="#686a6e"/>
<rect x="1335" y="333" width="5" height="1" fill="#5e130c"/>
<rect x="1345" y="319" width="1" height="26" fill="#686a6e"/>
<rect x="1343" y="326" width="5" height="7" fill="#1d5a3a"/>
<rect x="1344" y="327" width="3" height="5" fill="#6aa583"/>
<rect x="1353" y="309" width="1" height="21" fill="#686a6e"/>
<rect x="1351" y="315" width="5" height="10" fill="#1d5a3a"/>
<rect x="1352" y="316" width="3" height="8" fill="#6aa583"/>
<rect x="1362" y="293" width="1" height="25" fill="#686a6e"/>
<rect x="1360" y="298" width="5" height="16" fill="#1d5a3a"/>
<rect x="1361" y="299" width="3" height="14" fill="#6aa583"/>
<rect x="1370" y="268" width="1" height="32" fill="#686a6e"/>
<rect x="1368" y="272" width="5" height="26" fill="#1d5a3a"/>
<rect x="1369" y="273" width="3" height="24" fill="#6aa583"/>
<polyline points="3.0,728.1 19.2,729.2 28.2,726.9 46.1,714.6 61.5,706.4 74.3,705.6 79.4,706.9 88.3,704.8 99.9,705.6 110.1,704.3 128.0,712.0 143.4,710.7 160.0,713.3 180.5,716.1 186.9,715.3 197.2,712.5 220.2,707.1 235.6,708.2 252.2,711.8 261.2,710.2 270.2,713.0 279.1,709.4 289.4,708.9 311.1,712.8 320.1,712.5 336.7,714.1 348.3,719.7 361.1,726.6 370.2,727.4 377.9,729.4 385.6,737.6 394.6,735.1 403.0,731.2 411.2,734.5 420.2,735.3 427.1,733.0 436.3,727.9 444.5,726.4 453.5,728.1 462.4,727.4 470.1,727.9 478.3,727.4 486.2,723.5 495.0,726.6 503.4,736.9 511.6,737.4 520.0,733.3 527.7,735.1 544.9,726.1 552.8,714.1 569.5,721.5 577.7,720.2 585.9,735.8 595.1,746.6 611.5,736.9 627.6,739.2 635.3,736.3 644.3,735.6 653.2,730.7 662.2,728.7 677.5,726.1 692.9,728.1 703.2,728.1 710.8,725.6 719.8,719.7 728.3,722.8 745.1,741.7 753.3,737.6 761.7,729.2 769.9,723.5 778.9,723.3 787.1,725.3 795.5,731.7 802.7,736.6 811.7,733.8 819.9,737.4 827.6,738.1 836.5,735.6 845.0,734.0 853.2,735.3 861.6,729.4 869.8,729.2 878.3,722.8 886.7,715.6 894.6,717.4 903.1,691.8 912.1,688.7 919.7,699.0 927.9,705.1 936.4,709.4 944.8,712.0 953.0,712.8 962.0,713.3 969.7,715.9 977.4,717.4 986.3,718.4 1003.0,718.7 1011.9,719.2 1027.3,719.9 1037.0,718.4 1044.7,719.4 1052.9,727.1 1061.9,734.3 1069.6,736.9 1078.0,738.6 1086.7,751.2 1095.4,743.3 1103.0,745.0 1112.0,742.7 1119.7,736.3 1128.1,731.0 1136.9,733.8 1144.8,737.4 1153.0,731.7 1161.4,730.7 1169.6,732.0 1178.1,732.0 1186.3,734.0 1194.7,740.2 1202.9,737.4 1211.9,737.6 1220.1,732.5 1228.5,733.3 1237.5,734.8 1245.2,731.2 1253.4,725.6 1261.8,728.9 1269.5,739.4 1278.0,751.2 1286.9,756.1 1295.1,746.1 1302.8,744.0 1311.8,740.2 1320.2,734.5 1328.4,732.0 1336.6,730.4 1345.0,729.9 1353.2,727.4 1361.7,724.6 1369.9,720.2" fill="none" stroke="#2962ff" stroke-width="1.15" stroke-linejoin="round"/>
<polyline points="3.0,797.8 25.6,799.8 51.2,799.3 76.8,800.9 87.1,799.1 102.4,797.8 128.0,797.3 166.5,794.5 192.1,794.5 210.0,793.2 222.8,789.3 235.6,788.8 245.8,790.1 261.2,788.8 271.4,781.2 279.1,777.8 289.4,777.3 302.2,779.4 309.9,779.4 320.1,776.8 330.3,775.5 338.0,776.0 353.4,772.2 360.0,770.9 370.2,769.9 377.9,770.4 385.6,767.6 394.6,764.0 403.0,765.3 411.2,764.5 427.1,767.1 436.3,767.1 444.5,768.6 453.5,769.1 466.3,771.4 478.3,774.2 486.2,775.0 495.0,774.5 503.4,773.0 511.6,773.7 520.0,773.7 527.7,775.0 536.7,776.8 544.9,777.8 552.8,776.0 561.0,774.7 569.5,775.3 577.7,776.3 585.9,772.2 595.1,768.6 603.3,767.8 611.5,767.6 619.9,769.1 627.6,769.4 635.3,770.4 644.3,769.9 653.2,770.9 662.2,773.2 677.5,776.0 687.8,776.5 703.2,779.4 710.8,778.8 719.8,780.1 727.7,779.9 736.6,777.6 745.1,777.3 753.3,778.3 761.7,778.6 769.9,780.4 778.9,781.7 787.1,781.7 795.5,782.4 802.7,783.2 811.7,784.0 819.9,783.7 836.5,786.5 845.0,787.0 853.2,787.6 861.6,787.0 869.8,787.3 878.3,786.8 886.7,788.1 894.6,789.1 903.1,781.4 912.1,780.6 919.7,780.6 927.9,777.3 936.4,777.1 944.8,778.8 962.0,779.9 977.4,780.6 994.0,782.2 1011.9,784.5 1027.3,786.0 1044.7,787.3 1052.9,785.5 1061.9,786.8 1078.0,789.6 1086.7,788.1 1095.4,787.0 1112.0,786.5 1128.1,787.6 1144.8,786.5 1161.4,787.3 1178.1,789.3 1186.3,789.6 1194.7,788.6 1211.9,789.9 1228.5,790.4 1237.5,791.4 1253.4,792.2 1261.8,793.2 1269.5,792.2 1278.0,790.1 1286.9,787.6 1302.8,787.6 1311.8,785.2 1320.2,786.0 1336.6,786.3 1353.2,787.8 1361.7,788.3 1369.9,788.6" fill="none" stroke="#b22833" stroke-width="1.2" stroke-linejoin="round"/>
<rect x="3" y="684" width="1478" height="1" fill="#e0e3eb"/>
<rect x="3" y="761" width="1478" height="1" fill="#e0e3eb"/>
<rect x="1416" y="3" width="65" height="681" fill="#fff"/>
<rect x="1416" y="685" width="65" height="76" fill="#fff"/>
<rect x="1416" y="762" width="65" height="74" fill="#fff"/>
<rect x="3" y="804" width="1478" height="1" fill="#484848"/>
<rect x="1415" y="3" width="1" height="829" fill="#505050"/>
<rect x="3" y="832" width="1478" height="1" fill="#e0e3eb"/>
<g transform="translate(1370.6,671.4)"><circle r="11" fill="#fff"/><path d="M 3.2,-9.2 A 9.75,9.75 0 1 0 9.3,-2.9" fill="none" stroke="#9c27b0" stroke-width="1.5" stroke-linecap="round"/><path d="M2.8,-5.6 L-4.6,0.6 L-0.6,0.6 L-3.6,5.8 L4.3,-0.5 L0.3,-0.5 Z" fill="#9c27b0"/><circle cx="6.8" cy="-6.9" r="2.6" fill="#f23645"/></g>
</g>
</svg>
<div class="t " style="left:1424px;top:63.0px;font-size:12px;color:#50535e;font-weight:normal;">4,200.0</div>
<div class="t " style="left:1424px;top:111.0px;font-size:12px;color:#50535e;font-weight:normal;">4,000.0</div>
<div class="t " style="left:1424px;top:158.0px;font-size:12px;color:#50535e;font-weight:normal;">3,800.0</div>
<div class="t " style="left:1424px;top:206.0px;font-size:12px;color:#50535e;font-weight:normal;">3,600.0</div>
<div class="t " style="left:1424px;top:253.0px;font-size:12px;color:#50535e;font-weight:normal;">3,400.0</div>
<div class="t " style="left:1424px;top:301.0px;font-size:12px;color:#50535e;font-weight:normal;">3,200.0</div>
<div class="t " style="left:1424px;top:348.0px;font-size:12px;color:#50535e;font-weight:normal;">3,000.0</div>
<div class="t " style="left:1424px;top:396.0px;font-size:12px;color:#50535e;font-weight:normal;">2,800.0</div>
<div class="t " style="left:1424px;top:443.0px;font-size:12px;color:#50535e;font-weight:normal;">2,600.0</div>
<div class="t " style="left:1424px;top:491.0px;font-size:12px;color:#50535e;font-weight:normal;">2,400.0</div>
<div class="t " style="left:1424px;top:538.0px;font-size:12px;color:#50535e;font-weight:normal;">2,200.0</div>
<div class="t " style="left:1424px;top:585.0px;font-size:12px;color:#50535e;font-weight:normal;">2,000.0</div>
<div class="t " style="left:1424px;top:633.0px;font-size:12px;color:#50535e;font-weight:normal;">1,800.0</div>
<div class="t " style="left:1424px;top:716.5px;font-size:12px;color:#50535e;font-weight:normal;">0.00</div>
<div class="t " style="left:1424px;top:767.0px;font-size:12px;color:#50535e;font-weight:normal;">200.0</div>
<div style="position:absolute;left:1415px;top:0;width:66px;height:684px;overflow:hidden"><div class="bl" style="left:0;top:679px;width:55px;background:#000;color:#fff;">1,623.4</div></div>
<div class="bl" style="top:89px;width:55px;background:#000;color:#fff;">4,095.8</div>
<div class="bl" style="top:210px;width:55px;background:#000;color:#fff;">3,582.2</div>
<div class="bl" style="top:380px;width:55px;background:#000;color:#fff;">2,865.9</div>
<div class="bl" style="top:416px;width:55px;background:#000;color:#fff;">2,717.3</div>
<div class="bl" style="top:553px;width:55px;background:#000;color:#fff;">2,140.1</div>
<div class="bl" style="top:601px;width:55px;background:#000;color:#fff;">1,935.3</div>
<div class="bl" style="top:640px;width:55px;background:#000;color:#fff;">1,770.2</div>
<div class="bl" style="top:663px;width:55px;background:#000;color:#fff;">1,676.5</div>
<div class="bl" style="top:263px;width:61px;background:#6ba684;color:#dcebe2;"><span style="display:inline-block;position:relative;top:0.8px;transform:scaleX(0.955);transform-origin:0 50%;">10:05:46</span></div>
<div style="position:absolute;left:1419px;top:7px;width:56px;height:24px;border:1px solid #e0e3eb;border-radius:4px;"></div>
<div class="t " style="left:1423px;top:11.6px;font-size:12px;color:#131722;font-weight:normal;transform:scaleX(0.8286);transform-origin:0 50%;">USD</div>
<svg style="position:absolute;left:1464.5px;top:15.6px" width="10" height="10" viewBox="0 0 10 10"><path d="M2.5 3.6 L4.8 5.7 L7.1 3.6" fill="none" stroke="#131722" stroke-width="1.2"/></svg>
<svg style="position:absolute;left:1438px;top:808px" width="22" height="22" viewBox="0 0 22 22"><path d="M6.6 4.2 L14.4 4.2 L17.7 10.4 L14.4 16.6 L6.6 16.6 L3.3 10.4 Z" fill="none" stroke="#131722" stroke-width="1.15" stroke-linejoin="round"/><circle cx="10.5" cy="10.5" r="2" fill="none" stroke="#131722" stroke-width="1.15"/></svg>
<div class="t tl" style="left:56.5px;top:810px;width:60px;text-align:center;font-size:12px;color:#50535e;">12</div>
<div class="t tl mo" style="left:206.5px;top:810px;width:60px;text-align:center;font-size:12px;color:#50535e;">Mar</div>
<div class="t tl" style="left:290.5px;top:810px;width:60px;text-align:center;font-size:12px;color:#50535e;">11</div>
<div class="t tl" style="left:373.5px;top:810px;width:60px;text-align:center;font-size:12px;color:#50535e;">21</div>
<div class="t tl mo" style="left:465.5px;top:810px;width:60px;text-align:center;font-size:12px;color:#50535e;">Apr</div>
<div class="t tl" style="left:581.5px;top:810px;width:60px;text-align:center;font-size:12px;color:#50535e;">15</div>
<div class="t tl mo" style="left:715.5px;top:810px;width:60px;text-align:center;font-size:12px;color:#50535e;">May</div>
<div class="t tl" style="left:815.5px;top:810px;width:60px;text-align:center;font-size:12px;color:#50535e;">13</div>
<div class="t tl mo" style="left:973.5px;top:810px;width:60px;text-align:center;font-size:12px;color:#50535e;">Jun</div>
<div class="t tl" style="left:1107.5px;top:810px;width:60px;text-align:center;font-size:12px;color:#50535e;">17</div>
<div class="t tl mo" style="left:1223.5px;top:810px;width:60px;text-align:center;font-size:12px;color:#50535e;">Jul</div>
<div class="t tl" style="left:1340.5px;top:810px;width:60px;text-align:center;font-size:12px;color:#50535e;">15</div>
<div style="position:absolute;left:7px;top:10px;width:684px;height:18px;background:rgba(255,255,255,0.45);"></div>
<svg style="position:absolute;left:11.9px;top:9.9px" width="18" height="18" viewBox="0 0 18 18"><circle cx="9" cy="9" r="9" fill="#f0f3fa"/><path d="M9 2.7 L6.8 6.3 L9 7.7 Z" fill="#b7a9f5"/><path d="M9 2.7 L11.2 6.3 L9 7.7 Z" fill="#74d0f3"/><path d="M6.8 6.3 L4.9 9.3 L9 15.4 L9 7.7 Z" fill="#6d8bf6"/><path d="M11.2 6.3 L13.1 9.3 L9 15.4 L9 7.7 Z" fill="#c381f0"/></svg>
<div class="t ttl" style="left:33.9px;top:11.6px;font-size:15px;color:#5a5b5f;font-weight:normal;transform:scaleX(1.0454);transform-origin:0 50%;line-height:20px;margin-top:-2px;">Ethereum</div>
<div class="t ttl" style="left:111.5px;top:11.6px;font-size:15px;color:#5a5b5f;font-weight:normal;line-height:20px;margin-top:-2px;">/</div>
<div class="t ttl" style="left:121px;top:11.6px;font-size:15px;color:#5a5b5f;font-weight:normal;transform:scaleX(0.9593);transform-origin:0 50%;line-height:20px;margin-top:-2px;">U.S.</div>
<div class="t ttl" style="left:156px;top:11.6px;font-size:15px;color:#5a5b5f;font-weight:normal;transform:scaleX(1.0590);transform-origin:0 50%;line-height:20px;margin-top:-2px;">Dollar</div>
<div class="t ttl" style="left:211px;top:11.6px;font-size:15px;color:#5a5b5f;font-weight:normal;transform:scaleX(0.9121);transform-origin:0 50%;line-height:20px;margin-top:-2px;">1D</div>
<div class="t ttl" style="left:241px;top:11.6px;font-size:15px;color:#5a5b5f;font-weight:normal;transform:scaleX(0.8998);transform-origin:0 50%;line-height:20px;margin-top:-2px;">BITSTAMP</div>
<div style="position:absolute;left:203.1px;top:18.8px;width:2.3px;height:2.3px;border-radius:50%;background:#3c3c3c;"></div>
<div style="position:absolute;left:233.5px;top:18.8px;width:2.3px;height:2.3px;border-radius:50%;background:#3c3c3c;"></div>
<div style="position:absolute;left:324px;top:10px;width:18px;height:18px;border-radius:9px;background:rgba(8,153,129,0.14);"></div>
<div style="position:absolute;left:329px;top:15px;width:8px;height:8px;border-radius:4px;background:#089981;"></div>
<div class="t oh" style="left:358.5px;top:11.5px;font-size:13px;color:#5d606b;font-weight:normal;transform:scaleX(0.7901);transform-origin:0 50%;">O</div>
<div class="t oh" style="left:368px;top:11.5px;font-size:13px;color:#37775a;font-weight:normal;transform:scaleX(0.9844);transform-origin:0 50%;">3,246.2</div>
<div class="t oh" style="left:417px;top:11.5px;font-size:13px;color:#5d606b;font-weight:normal;transform:scaleX(0.7987);transform-origin:0 50%;">H</div>
<div class="t oh" style="left:425.5px;top:11.5px;font-size:13px;color:#37775a;font-weight:normal;transform:scaleX(1.0029);transform-origin:0 50%;">3,372.4</div>
<div class="t oh" style="left:476.3px;top:11.5px;font-size:13px;color:#5d606b;font-weight:normal;transform:scaleX(0.7603);transform-origin:0 50%;">L</div>
<div class="t oh" style="left:484px;top:11.5px;font-size:13px;color:#37775a;font-weight:normal;transform:scaleX(0.9798);transform-origin:0 50%;">3,235.7</div>
<div class="t oh" style="left:534px;top:11.5px;font-size:13px;color:#5d606b;font-weight:normal;transform:scaleX(0.7987);transform-origin:0 50%;">C</div>
<div class="t oh" style="left:542.5px;top:11.5px;font-size:13px;color:#37775a;font-weight:normal;transform:scaleX(0.9914);transform-origin:0 50%;">3,359.9</div>
<div class="t oh" style="left:592.5px;top:11.5px;font-size:13px;color:#37775a;font-weight:normal;transform:scaleX(0.9190);transform-origin:0 50%;">+113.9</div>
<div class="t oh" style="left:634px;top:11.5px;font-size:13px;color:#37775a;font-weight:normal;transform:scaleX(0.9224);transform-origin:0 50%;">(+3.51%)</div>
<div style="position:absolute;left:11px;top:35px;width:58px;height:22px;border:1px solid #f23645;border-radius:4px;"></div>
<div class="t " style="left:19.5px;top:39.6px;font-size:13px;color:#f23645;font-weight:normal;transform:scaleX(0.9867);transform-origin:0 50%;">3,358.2</div>
<div class="t " style="left:79px;top:39.6px;font-size:12px;color:#131722;font-weight:normal;transform:scaleX(0.8929);transform-origin:0 50%;">0.7</div>
<div style="position:absolute;left:102px;top:35px;width:58px;height:22px;border:1px solid #2962ff;border-radius:4px;"></div>
<div class="t " style="left:110.5px;top:39.6px;font-size:13px;color:#2962ff;font-weight:normal;transform:scaleX(0.9914);transform-origin:0 50%;">3,358.9</div>
<div style="position:absolute;left:7px;top:68.0px;width:137px;height:15px;background:rgba(255,255,255,0.55);"></div>
<div class="t lg" style="left:12px;top:67.5px;font-size:13px;color:#5a5d68;font-weight:normal;transform:scaleX(0.9245);transform-origin:0 50%;">SMA 20 close</div>
<div class="t lg" style="left:94.5px;top:67.5px;font-size:13px;color:#f23645;font-weight:normal;transform:scaleX(0.9914);transform-origin:0 50%;">3,219.3</div>
<div style="position:absolute;left:7px;top:92.0px;width:137px;height:15px;background:rgba(255,255,255,0.55);"></div>
<div class="t lg" style="left:12px;top:91.5px;font-size:13px;color:#5a5d68;font-weight:normal;transform:scaleX(0.9245);transform-origin:0 50%;">SMA 50 close</div>
<div class="t lg" style="left:94.5px;top:91.5px;font-size:13px;color:#3535f3;font-weight:normal;transform:scaleX(0.9914);transform-origin:0 50%;">3,467.8</div>
<div style="position:absolute;left:7px;top:116.0px;width:144px;height:15px;background:rgba(255,255,255,0.55);"></div>
<div class="t lg" style="left:12px;top:115.5px;font-size:13px;color:#5a5d68;font-weight:normal;transform:scaleX(0.9283);transform-origin:0 50%;">SMA 200 close</div>
<div class="t lg" style="left:101px;top:115.5px;font-size:13px;color:#131722;font-weight:normal;transform:scaleX(0.9914);transform-origin:0 50%;">3,134.8</div>
<div style="position:absolute;left:12px;top:137px;width:27px;height:19px;border:1px solid #d5d8e0;border-radius:3px;background:#fff;"></div>
<svg style="position:absolute;left:20px;top:142px" width="12" height="10" viewBox="0 0 12 10"><path d="M2.5 7 L6 3.6 L9.5 7" fill="none" stroke="#131722" stroke-width="1.4"/></svg>
<div style="position:absolute;left:7px;top:694px;width:152px;height:15px;background:rgba(255,255,255,0.62);"></div>
<div style="position:absolute;left:7px;top:771px;width:117px;height:15px;background:rgba(255,255,255,0.62);"></div>
<div class="t lg2" style="left:12.3px;top:693.5px;font-size:13px;color:#5a5d68;font-weight:normal;transform:scaleX(0.9242);transform-origin:0 50%;">CCI 20 hlc3 SMA 5</div>
<div class="t lg2" style="left:122px;top:693.5px;font-size:13px;color:#2962ff;font-weight:normal;transform:scaleX(0.9771);transform-origin:0 50%;">43.95</div>
<div class="t lg2" style="left:12.3px;top:770.5px;font-size:13px;color:#5a5d68;font-weight:normal;transform:scaleX(0.8808);transform-origin:0 50%;">ATR 14 RMA</div>
<div class="t lg2" style="left:88px;top:770.5px;font-size:13px;color:#b22833;font-weight:normal;transform:scaleX(0.9463);transform-origin:0 50%;">137.1</div>
<svg style="position:absolute;left:15.3px;top:771.7px" width="30" height="23" viewBox="0 0 36 28"><path d="M14 22H7V11H0V4h14v18zM28 22h-8l7.5-18h8L28 22z" fill="#131722" fill-opacity="0.5"/><circle cx="20" cy="8" r="4" fill="#131722" fill-opacity="0.5"/></svg>
</div>
</body></html>
